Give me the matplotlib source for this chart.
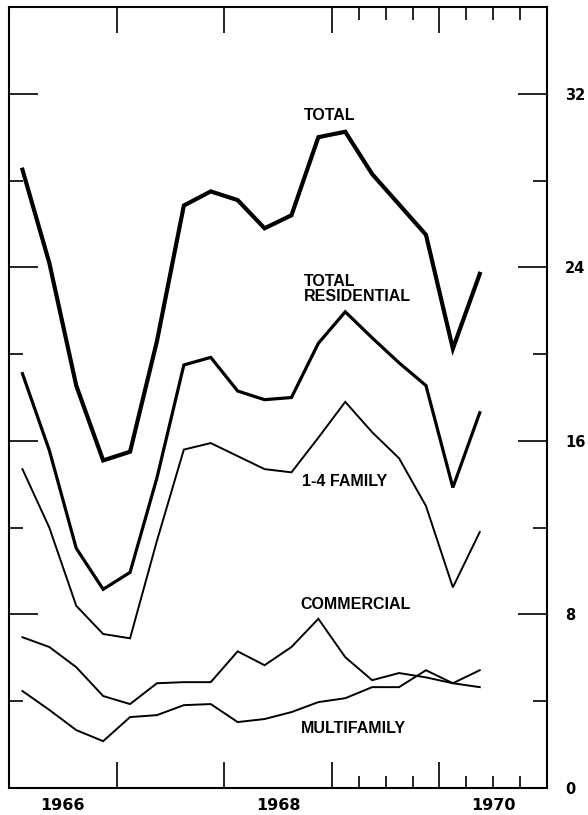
import numpy as np
import pandas as pd
from matplotlib import pyplot as plt

# quarterly data, seasonally adjusted annual rates (billions of dollars)
quarters = pd.period_range('1966Q1', '1970Q2', freq='Q')

total = [28.5, 24.2, 18.55, 15.1, 15.5, 20.6, 26.85, 27.5, 27.1, 25.8,
         26.4, 30.0, 30.25, 28.3, 26.9, 25.5, 20.25, 23.7]
total_residential = [19.1, 15.56, 11.05, 9.16, 9.94, 14.3, 19.5, 19.85, 18.3,
                     17.9, 18.0, 20.5, 21.95, 20.75, 19.6, 18.55, 13.85, 17.3]
one_to_four = [14.7, 12.0, 8.4, 7.1, 6.9, 11.4, 15.6, 15.9, 15.3, 14.7,
               14.55, 16.15, 17.8, 16.4, 15.2, 13.0, 9.25, 11.8]
commercial = [6.95, 6.5, 5.57, 4.24, 3.87, 4.83, 4.88, 4.88, 6.3, 5.66,
              6.5, 7.8, 6.03, 4.97, 5.3, 5.1, 4.83, 4.65]
multifamily = [4.47, 3.6, 2.67, 2.16, 3.27, 3.36, 3.82, 3.87, 3.04, 3.18,
               3.5, 3.96, 4.14, 4.65, 4.65, 5.43, 4.83, 5.43]

year_labels = ['1966', '1968', '1970']
y_labels = ['0', '8', '16', '24', '32']

# points at the middle of each quarter
x = np.array([q.year + (q.quarter - 0.5) / 4 for q in quarters])

fig = plt.figure(figsize=(5.88, 8.15), dpi=100)
ax = fig.add_axes([0.0153, 0.0331, 0.9150, 0.9583])

ax.plot(x, total, color='black', lw=3.0, solid_joinstyle='miter')
ax.plot(x, total_residential, color='black', lw=2.3, solid_joinstyle='miter')
ax.plot(x, one_to_four, color='black', lw=1.4, solid_joinstyle='miter')
ax.plot(x, commercial, color='black', lw=1.4, solid_joinstyle='miter')
ax.plot(x, multifamily, color='black', lw=1.4, solid_joinstyle='miter')

ax.set_xlim(1966, 1971)
ax.set_ylim(0, 36)

# x ticks: year boundaries tall, quarters in 1969-70 short
ax.set_xticks([1967, 1968, 1969, 1970])
ax.set_xticks([1969.25, 1969.5, 1969.75, 1970.25, 1970.5, 1970.75], minor=True)
ax.tick_params(axis='x', which='both', direction='in', top=True, bottom=True,
               labelbottom=False, width=1.2)
ax.tick_params(axis='x', which='major', length=19)
ax.tick_params(axis='x', which='minor', length=9)

ax.set_yticks([0, 8, 16, 24, 32])
ax.set_yticks([4, 12, 20, 28], minor=True)
ax.set_yticklabels(y_labels)
ax.tick_params(axis='y', which='both', direction='in', left=True, right=True,
               labelleft=False, labelright=True, width=1.2, pad=13)
ax.tick_params(axis='y', which='major', length=21)
ax.tick_params(axis='y', which='minor', length=10)
for lab in ax.get_yticklabels():
    lab.set_fontweight('bold')
    lab.set_fontsize(10.5)

for sp in ax.spines.values():
    sp.set_linewidth(1.5)

# year labels centred on the year
for lab in year_labels:
    ax.text(int(lab) + 0.5, -0.022, lab, transform=ax.get_xaxis_transform(),
            ha='center', va='center', fontsize=11.5, fontweight='bold')

lbl = dict(ha='left', va='center', fontsize=11.5, fontweight='bold',
           family='Liberation Sans', linespacing=1.05)
ax.text(1968.74, 31.0, 'TOTAL', **lbl)
ax.text(1968.74, 23.0, 'TOTAL\nRESIDENTIAL', **lbl)
ax.text(1968.72, 14.13, '1-4 FAMILY', **lbl)
ax.text(1968.71, 8.47, 'COMMERCIAL', **lbl)
ax.text(1968.71, 2.76, 'MULTIFAMILY', **lbl)

fig.savefig('out.png', dpi=100)
